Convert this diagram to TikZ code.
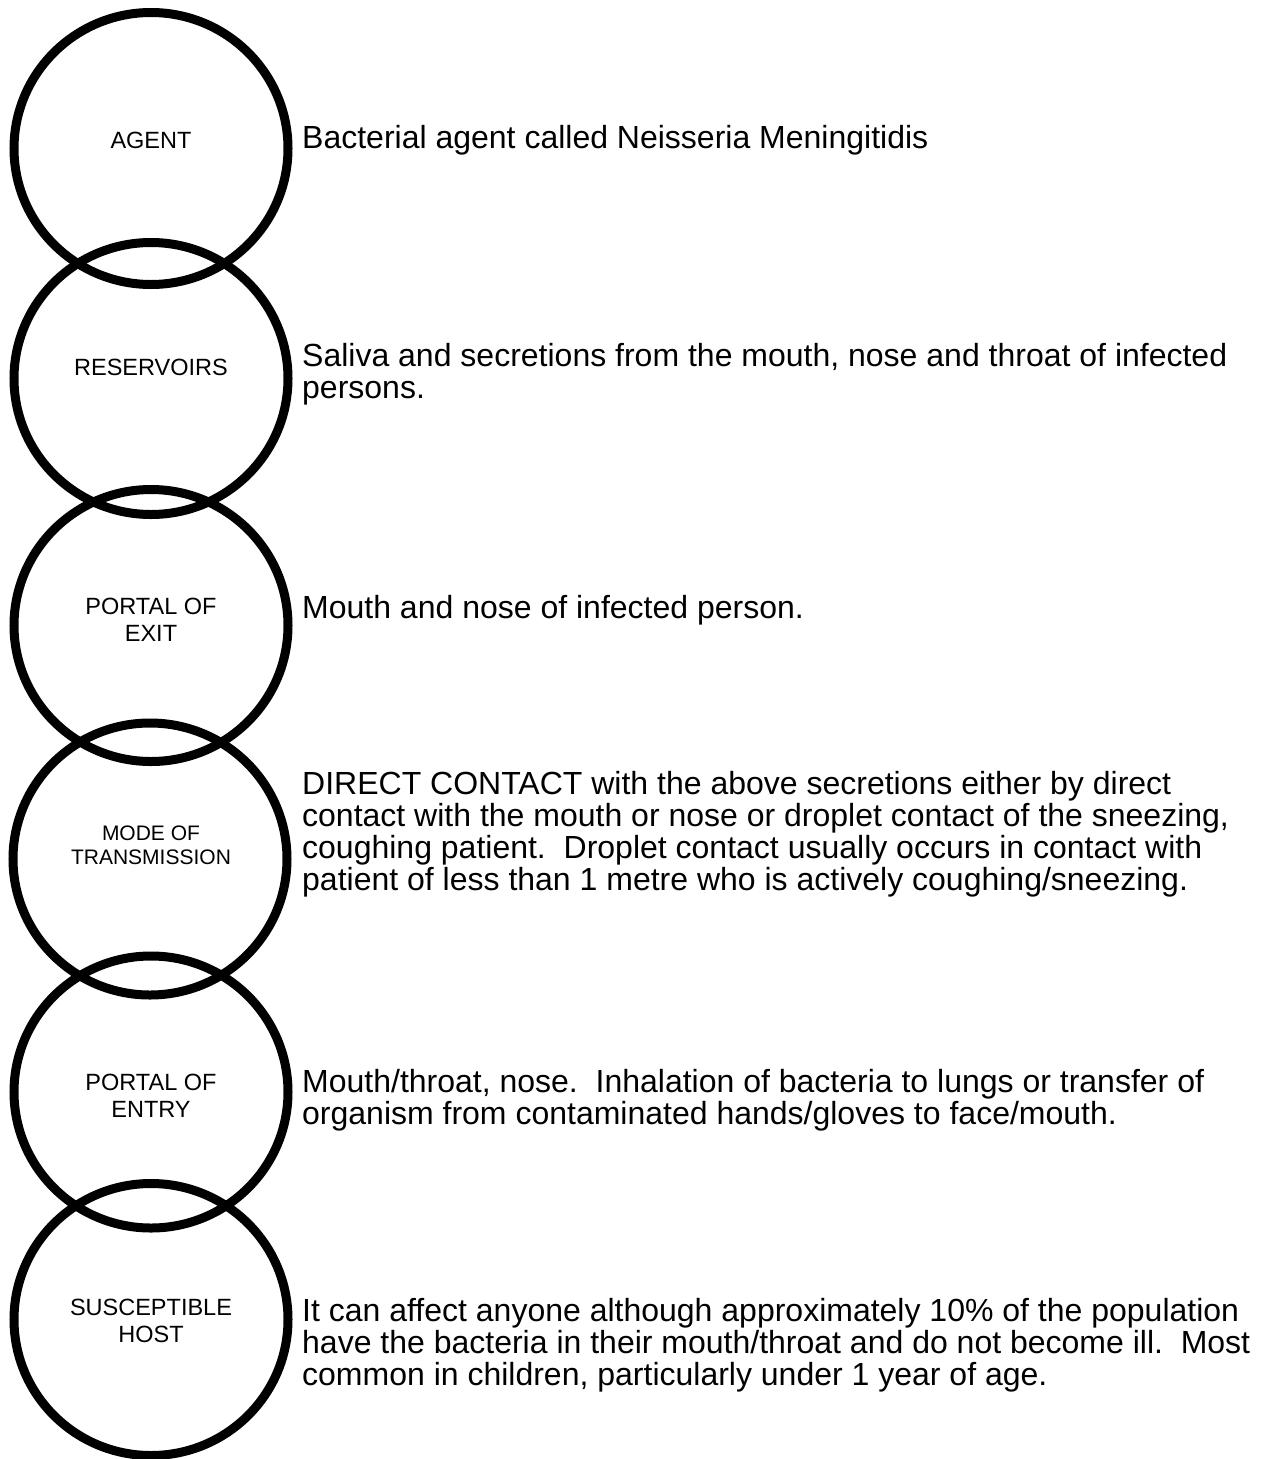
\documentclass[tikz,border=0pt]{standalone}
\usepackage{fontspec}
\setmainfont{Liberation Sans}
\usetikzlibrary{shapes.geometric}

\tikzset{
  ring/.style={ellipse, draw=black, line width=9pt, minimum width=274pt,
    minimum height=272pt, inner sep=0pt},
  lbl/.style={align=center, font=\fontsize{23.5}{27}\selectfont, inner sep=0pt},
  small lbl/.style={align=center, font=\fontsize{21}{24}\selectfont, inner sep=0pt},
  desc/.style={anchor=base west, inner sep=0pt, font=\fontsize{32}{32}\selectfont}
}

\begin{document}
\begin{tikzpicture}[x=1pt, y=-1pt]
\useasboundingbox (0,0) rectangle (1263,1459);

% chain of infection rings
\node[ring] (agent)  at (151,148.5) {};
\node[ring] (resv)   at (151,378.5) {};
\node[ring] (exit)   at (151,625.5) {};
\node[ring] (mode)   at (150,859)   {};
\node[ring] (entry)  at (151,1092)  {};
\node[ring] (host)   at (151,1319.5) {};

% ring labels
\node[lbl] (agentl) at (151,140) {AGENT};
\node[lbl] (resvl)  at (151,367) {RESERVOIRS};
\node[lbl] (exitl)  at (151,620) {PORTAL OF\\EXIT};
\node[small lbl] (model) at (151,845) {MODE OF\\TRANSMISSION};
\node[lbl] (entryl) at (151,1096) {PORTAL OF\\ENTRY};
\node[lbl] (hostl)  at (151,1321) {SUSCEPTIBLE\\HOST};

% descriptions
\node[desc] (d1) at (302,148) {Bacterial agent called Neisseria Meningitidis};

\node[desc] (d2a) at (302,366) {Saliva and secretions from the mouth, nose and throat of infected};
\node[desc] (d2b) at (302,398) {persons.};

\node[desc] (d3) at (302,618) {Mouth and nose of infected person.};

\node[desc] (d4a) at (302,794) {DIRECT CONTACT with the above secretions either by direct};
\node[desc] (d4b) at (302,826) {contact with the mouth or nose or droplet contact of the sneezing,};
\node[desc] (d4c) at (302,858) {coughing patient.\ \ Droplet contact usually occurs in contact with};
\node[desc] (d4d) at (302,890) {patient of less than 1 metre who is actively coughing/sneezing.};

\node[desc] (d5a) at (302,1092) {Mouth/throat, nose.\ \ Inhalation of bacteria to lungs or transfer of};
\node[desc] (d5b) at (302,1124) {organism from contaminated hands/gloves to face/mouth.};

\node[desc] (d6a) at (302,1321) {It can affect anyone although approximately 10\% of the population};
\node[desc] (d6b) at (302,1353) {have the bacteria in their mouth/throat and do not become ill.\ \ Most};
\node[desc] (d6c) at (302,1385) {common in children, particularly under 1 year of age.};
\end{tikzpicture}
\end{document}
